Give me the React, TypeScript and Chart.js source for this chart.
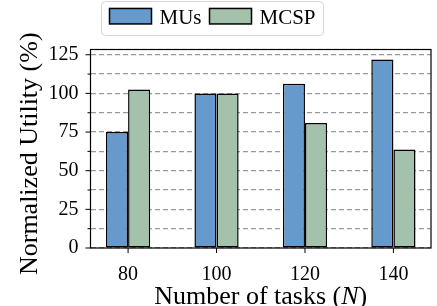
import React, { useEffect, useRef } from 'react';
import { Chart, registerables } from 'chart.js';

Chart.register(...registerables);

// ---- data ----
const categories = [80, 100, 120, 140];
const musValues = [75, 100, 106.2, 122];
const mcspValues = [102.6, 100, 80.8, 63.7];
const seriesNames = ['MUs', 'MCSP'];
const yTicks = [0, 12.5, 25, 37.5, 50, 62.5, 75, 87.5, 100, 112.5, 125];
const yLabelTicks = [0, 25, 50, 75, 100, 125];
const yTitle = 'Normalized Utility (%)';
const xTitleParts = ['Number of tasks (', 'N', ')'];

const SERIF = '"Liberation Serif", "Times New Roman", serif';
const colors = ['#6699cc', '#a3c1ab'];

const decorPlugin = {
  id: 'decor',
  beforeDraw(chart: any) {
    const ctx = chart.ctx;
    ctx.save();
    ctx.fillStyle = '#ffffff';
    ctx.fillRect(0, 0, chart.width, chart.height);
    ctx.restore();
  },
  afterDraw(chart: any) {
    const { ctx, chartArea: a, scales } = chart;
    ctx.save();
    // frame
    ctx.strokeStyle = '#000';
    ctx.lineWidth = 1.2;
    ctx.strokeRect(a.left, a.top, a.right - a.left, a.bottom - a.top);
    // y tick marks
    ctx.lineWidth = 1;
    yTicks.forEach((v) => {
      const y = scales.y.getPixelForValue(v);
      const len = yLabelTicks.includes(v) ? 5 : 3;
      ctx.beginPath();
      ctx.moveTo(a.left - len, y);
      ctx.lineTo(a.left, y);
      ctx.stroke();
    });
    // x tick marks
    categories.forEach((v) => {
      const x = scales.x.getPixelForValue(v);
      ctx.beginPath();
      ctx.moveTo(x, a.bottom);
      ctx.lineTo(x, a.bottom + 5);
      ctx.stroke();
    });

    // x title with italic N
    ctx.fillStyle = '#000';
    ctx.textBaseline = 'alphabetic';
    const normalFont = `26px ${SERIF}`;
    const italicFont = `italic 26px ${SERIF}`;
    const fonts = [normalFont, italicFont, normalFont];
    let total = 0;
    const widths = xTitleParts.map((t, i) => {
      ctx.font = fonts[i];
      const w = ctx.measureText(t).width;
      total += w;
      return w;
    });
    let xx = (a.left + a.right) / 2 - total / 2;
    xTitleParts.forEach((t, i) => {
      ctx.font = fonts[i];
      ctx.textAlign = 'left';
      ctx.fillText(t, xx, 304);
      xx += widths[i];
    });

    // y title
    ctx.save();
    ctx.translate(36.5, (a.top + a.bottom) / 2 + 5);
    ctx.rotate(-Math.PI / 2);
    ctx.font = `26px ${SERIF}`;
    ctx.textAlign = 'center';
    ctx.fillText(yTitle, 0, 0);
    ctx.restore();

    // legend
    ctx.font = `21px ${SERIF}`;
    const sw = 42, sh = 15.5, gap = 8, pad = 8;
    const boxLeft = 101.5;
    const boxTop = 1.5;
    const cy = 16.2;
    let lx = boxLeft + pad;
    const items: { x: number; tx: number; label: string; color: string }[] = [];
    seriesNames.forEach((name, i) => {
      const tx = lx + sw + gap;
      items.push({ x: lx, tx, label: name, color: chart.data.datasets[i].backgroundColor });
      lx = tx + ctx.measureText(name).width + gap;
    });
    const boxRight = lx - gap + pad;
    const r = 4;
    const bw = boxRight - boxLeft, bh = 34;
    ctx.beginPath();
    ctx.moveTo(boxLeft + r, boxTop);
    ctx.lineTo(boxLeft + bw - r, boxTop);
    ctx.arcTo(boxLeft + bw, boxTop, boxLeft + bw, boxTop + r, r);
    ctx.lineTo(boxLeft + bw, boxTop + bh - r);
    ctx.arcTo(boxLeft + bw, boxTop + bh, boxLeft + bw - r, boxTop + bh, r);
    ctx.lineTo(boxLeft + r, boxTop + bh);
    ctx.arcTo(boxLeft, boxTop + bh, boxLeft, boxTop + bh - r, r);
    ctx.lineTo(boxLeft, boxTop + r);
    ctx.arcTo(boxLeft, boxTop, boxLeft + r, boxTop, r);
    ctx.closePath();
    ctx.fillStyle = '#fff';
    ctx.fill();
    ctx.strokeStyle = '#d6d6d6';
    ctx.lineWidth = 1;
    ctx.stroke();
    items.forEach((it) => {
      ctx.fillStyle = it.color;
      ctx.fillRect(it.x, cy - sh / 2, sw, sh);
      ctx.strokeStyle = '#000';
      ctx.lineWidth = 1.5;
      ctx.strokeRect(it.x, cy - sh / 2, sw, sh);
      ctx.fillStyle = '#000';
      ctx.textAlign = 'left';
      ctx.textBaseline = 'alphabetic';
      ctx.fillText(it.label, it.tx, cy + 7.8);
    });
    ctx.restore();
  },
};

export default function App() {
  const ref = useRef<HTMLCanvasElement>(null);
  useEffect(() => {
    document.body.style.margin = '0';
    const canvas = ref.current!;
    const chart = new Chart(canvas, {
      type: 'bar',
      data: {
        datasets: [
          {
            label: seriesNames[0],
            data: categories.map((c, i) => ({ x: c, y: musValues[i] })),
            backgroundColor: colors[0],
            borderColor: '#000',
            borderWidth: 1.5,
            borderSkipped: false,
          },
          {
            label: seriesNames[1],
            data: categories.map((c, i) => ({ x: c, y: mcspValues[i] })),
            backgroundColor: colors[1],
            borderColor: '#000',
            borderWidth: 1.5,
            borderSkipped: false,
          },
        ],
      },
      options: {
        responsive: false,
        animation: false,
        devicePixelRatio: 1,
        layout: { padding: { top: 49.5, right: 6, left: 0, bottom: 0 } },
        datasets: { bar: { categoryPercentage: 0.5, barPercentage: 1 } },
        plugins: { legend: { display: false }, tooltip: { enabled: false } },
        scales: {
          x: {
            type: 'linear',
            offset: false,
            min: 71.5,
            max: 148.5,
            afterBuildTicks: (s: any) => {
              s.ticks = categories.map((v) => ({ value: v }));
            },
            afterFit: (s: any) => {
              s.height = 58;
            },
            grid: { display: false, offset: false },
            border: { display: false },
            ticks: {
              color: '#000',
              font: { family: SERIF, size: 20 },
              padding: 7,
              maxRotation: 0,
              autoSkip: false,
            },
          },
          y: {
            type: 'linear',
            min: 0,
            max: 128.4,
            afterBuildTicks: (s: any) => {
              s.ticks = yTicks.map((v) => ({ value: v }));
            },
            afterFit: (s: any) => {
              s.width = 90.5;
            },
            grid: { color: '#9a9a9a', lineWidth: 1.2, drawTicks: false },
            border: { display: false, dash: [5, 3] },
            ticks: {
              color: '#000',
              font: { family: SERIF, size: 20 },
              padding: 12,
              autoSkip: false,
              callback: (v: any) => (yLabelTicks.includes(Number(v)) ? String(v) : ''),
            },
          },
        },
      },
      plugins: [decorPlugin],
    } as any);
    return () => chart.destroy();
  }, []);
  return (
    <div style={{ width: 437, height: 306 }}>
      <canvas ref={ref} width={437} height={306} style={{ display: 'block' }} />
    </div>
  );
}
